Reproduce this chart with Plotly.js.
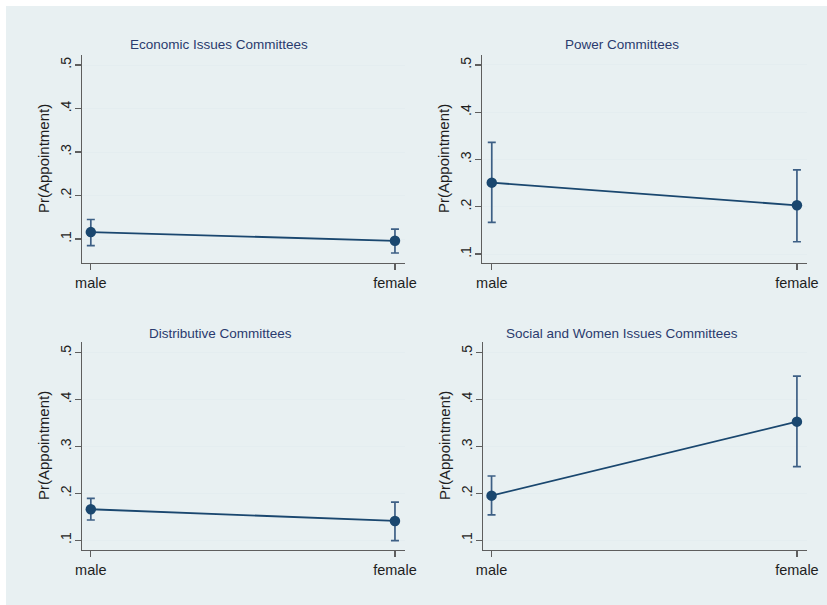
<!DOCTYPE html>
<html>
<head>
<meta charset="utf-8">
<script src="https://cdn.plot.ly/plotly-3.0.1.min.js"></script>
<style>html,body{margin:0;padding:0;background:#fff;}#chart{width:827px;height:605px;}</style>
</head>
<body>
<div id="chart"></div>
<script>
// ---- data ----
const categories = ['male', 'female'];
const panelTitles = ['Economic Issues Committees', 'Power Committees', 'Distributive Committees', 'Social and Women Issues Committees'];
const econMean = [0.116, 0.096];
const econLow  = [0.085, 0.068];
const econHigh = [0.145, 0.123];
const powerMean = [0.251, 0.203];
const powerLow  = [0.167, 0.126];
const powerHigh = [0.336, 0.278];
const distMean = [0.166, 0.141];
const distLow  = [0.143, 0.099];
const distHigh = [0.189, 0.181];
const socialMean = [0.195, 0.353];
const socialLow  = [0.154, 0.257];
const socialHigh = [0.237, 0.450];
const yTickVals = [0.1, 0.2, 0.3, 0.4, 0.5];
const yTickText = ['.1', '.2', '.3', '.4', '.5'];
const yTitle = 'Pr(Appointment)';

// ---- layout geometry (pixels) ----
const W = 827, H = 605;
const px = v => v / W;
const py = v => 1 - v / H;
const panels = [
  {x0: 82,  x1: 405, y0: 55,  y1: 263, yr: [0.045, 0.523], xr: [-0.029, 1.033], tx: 219, ty: 45},
  {x0: 482, x1: 807, y0: 55,  y1: 263, yr: [0.081, 0.521], xr: [-0.032, 1.033], tx: 622, ty: 45},
  {x0: 82,  x1: 405, y0: 342, y1: 550, yr: [0.079, 0.523], xr: [-0.029, 1.033], tx: 220, ty: 333},
  {x0: 483, x1: 807, y0: 342, y1: 550, yr: [0.079, 0.523], xr: [-0.028, 1.033], tx: 622, ty: 333}
];
const series = [
  [econMean, econLow, econHigh],
  [powerMean, powerLow, powerHigh],
  [distMean, distLow, distHigh],
  [socialMean, socialLow, socialHigh]
];

const navy = '#1a476f';
const txt = '#1e1e1e';
const font = 'Liberation Sans, Arial, Helvetica, sans-serif';

const traces = [];
const layout = {
  width: W, height: H,
  margin: {l: 0, r: 0, t: 0, b: 0},
  paper_bgcolor: '#ffffff',
  plot_bgcolor: '#ffffff',
  showlegend: false,
  font: {family: font, color: txt},
  shapes: [{type: 'rect', xref: 'paper', yref: 'paper', x0: px(6), x1: 1, y0: 0, y1: py(6),
            fillcolor: '#e8f0f2', line: {width: 0}, layer: 'below'}],
  annotations: []
};

panels.forEach((p, i) => {
  const n = i + 1;
  const xa = n === 1 ? 'x' : 'x' + n;
  const ya = n === 1 ? 'y' : 'y' + n;
  const [m, lo, hi] = series[i];
  traces.push({
    type: 'scatter', mode: 'lines+markers',
    x: categories, y: m, xaxis: xa, yaxis: ya,
    line: {color: navy, width: 1.8},
    marker: {color: navy, size: 10.5},
    error_y: {type: 'data', symmetric: false,
      array: m.map((v, k) => hi[k] - v),
      arrayminus: m.map((v, k) => v - lo[k]),
      color: '#3d5f85', thickness: 1.7, width: 4},
    cliponaxis: false, hoverinfo: 'skip'
  });
  layout['xaxis' + (n === 1 ? '' : n)] = {
    domain: [px(p.x0), px(p.x1)], anchor: ya,
    type: 'category', range: p.xr,
    showgrid: false, zeroline: false,
    showline: true, linecolor: '#5e5e5e', linewidth: 1.3,
    ticks: 'outside', ticklen: 6, tickcolor: '#5e5e5e', tickwidth: 1.3,
    tickfont: {family: font, size: 14.5, color: txt},
    fixedrange: true
  };
  layout['yaxis' + (n === 1 ? '' : n)] = {
    domain: [py(p.y1), py(p.y0)], anchor: xa,
    range: p.yr,
    tickmode: 'array', tickvals: yTickVals, ticktext: yTickText,
    tickangle: -90, ticklabelstandoff: -2,
    showgrid: true, gridcolor: '#e4edf0', gridwidth: 1,
    zeroline: false,
    showline: true, linecolor: '#5e5e5e', linewidth: 1.3,
    ticks: 'outside', ticklen: 6, tickcolor: '#5e5e5e', tickwidth: 1.3,
    tickfont: {family: font, size: 14, color: txt},
    fixedrange: true
  };
  layout.annotations.push({
    xref: 'paper', yref: 'paper', x: px(p.tx), y: py(p.ty),
    xanchor: 'center', yanchor: 'middle', showarrow: false,
    text: panelTitles[i], font: {family: font, size: 13.5, color: '#2a3b6e'}
  });
  layout.annotations.push({
    xref: 'paper', yref: 'paper', x: px(p.x0 - 39), y: py((p.y0 + p.y1) / 2),
    xanchor: 'center', yanchor: 'middle', showarrow: false, textangle: -90,
    text: yTitle, font: {family: font, size: 15, color: txt}
  });
});

Plotly.newPlot('chart', traces, layout, {displayModeBar: false, staticPlot: true});
</script>
</body>
</html>
